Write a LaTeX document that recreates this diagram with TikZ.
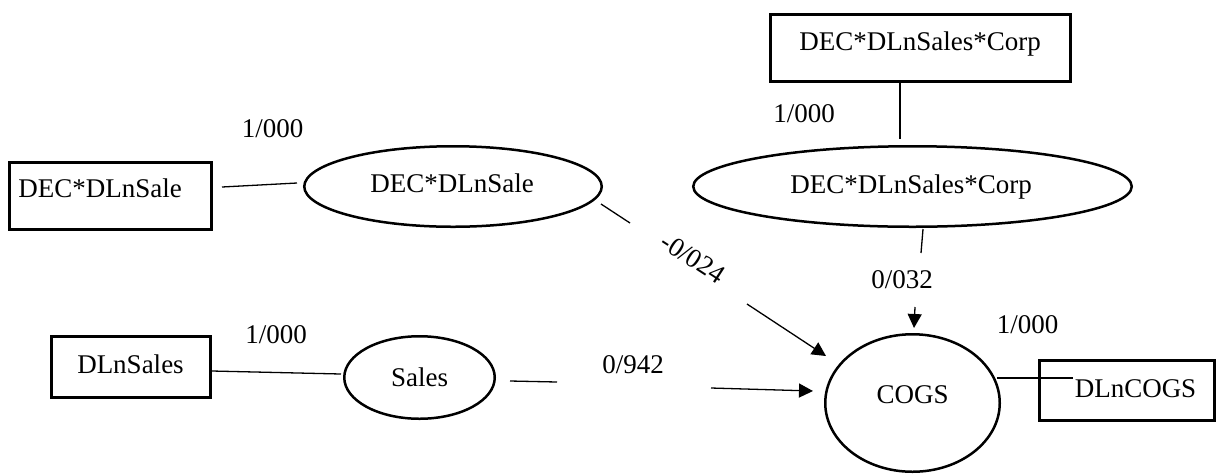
\documentclass[tikz,border=0pt]{standalone}
\usepackage{fontspec}
\setmainfont{Liberation Serif}
\usetikzlibrary{arrows.meta,shapes.geometric}
\begin{document}
\begin{tikzpicture}[x=1pt,y=-1pt,
  every node/.style={font=\fontsize{27}{31}\selectfont, inner sep=0pt, outer sep=0pt},
  boxnode/.style={draw, line width=3pt, rectangle},
  ovalnode/.style={draw, line width=2.5pt, ellipse},
  lbl/.style={anchor=base},
  conn/.style={line width=1.3pt},
  arr/.style={conn, -{Triangle[length=14pt,width=14pt]}}]
\useasboundingbox (0,0) rectangle (1225,475);

% observed indicators (boxes)
\node[boxnode, minimum width=202pt, minimum height=67pt] (b1) at (110.5,196) {};
\node[boxnode, minimum width=300pt, minimum height=67pt] (b2) at (920.5,48) {};
\node[boxnode, minimum width=159pt, minimum height=61pt] (b3) at (131,367) {};
\node[boxnode, minimum width=175pt, minimum height=60pt] (b4) at (1127,390.5) {};

% latent constructs (ellipses)
\node[ovalnode, minimum width=297.5pt, minimum height=80.5pt] (e1) at (453,186.5) {};
\node[ovalnode, minimum width=438.5pt, minimum height=80.5pt] (e2) at (912.5,186.5) {};
\node[ovalnode, minimum width=150.5pt, minimum height=82.5pt] (e3) at (419.5,377.5) {};
\node[ovalnode, minimum width=174.5pt, minimum height=137.5pt] (c) at (912.5,403) {};

% names
\node[lbl] (b1t) at (100,197) {DEC*DLnSale};
\node[lbl] (b2t) at (920,50) {DEC*DLnSales*Corp};
\node[lbl] (b3t) at (130.5,373) {DLnSales};
\node[lbl] (b4t) at (1135.5,397) {DLnCOGS};
\node[lbl] (e1t) at (452,192) {DEC*DLnSale};
\node[lbl] (e2t) at (911,193) {DEC*DLnSales*Corp};
\node[lbl] (e3t) at (419.7,386) {Sales};
\node[lbl] (ct) at (912.5,403) {COGS};

% loadings and path coefficients
\node[lbl] (l1) at (272.5,137) {1/000};
\node[lbl] (l2) at (804,122) {1/000};
\node[lbl] (l3) at (276,343) {1/000};
\node[lbl] (l4) at (1027.5,333) {1/000};
\node[lbl] (p2) at (902,288) {0/032};
\node[lbl] (p3) at (633,373) {0/942};
\node[rotate=-33] (p1) at (693,258) {-0/024};

% connector end points
\coordinate (m1a) at (222,187);  \coordinate (m1b) at (297,183);
\coordinate (m2a) at (900,83);   \coordinate (m2b) at (900,139);
\coordinate (m3a) at (212,371);  \coordinate (m3b) at (341,374);
\coordinate (m4a) at (997,378);  \coordinate (m4b) at (1073,378);
\coordinate (s1a) at (601,204);  \coordinate (s1b) at (630,223);
\coordinate (s1c) at (747,304);  \coordinate (s1d) at (826,356);
\coordinate (s2a) at (923,229);  \coordinate (s2b) at (921,253);
\coordinate (s2c) at (915,307);  \coordinate (s2d) at (914,328);
\coordinate (s3a) at (510,381);  \coordinate (s3b) at (557,382);
\coordinate (s3c) at (711,388);  \coordinate (s3d) at (813,391);

% measurement links
\draw[conn] (m1a) -- (m1b);
\draw[conn] (m2a) -- (m2b);
\draw[conn] (m3a) -- (m3b);
\draw[conn] (m4a) -- (m4b);

% structural paths
\draw[conn] (s1a) -- (s1b);
\draw[arr] (s1c) -- (s1d);
\draw[conn] (s2a) -- (s2b);
\draw[arr] (s2c) -- (s2d);
\draw[conn] (s3a) -- (s3b);
\draw[arr] (s3c) -- (s3d);
\end{tikzpicture}
\end{document}
